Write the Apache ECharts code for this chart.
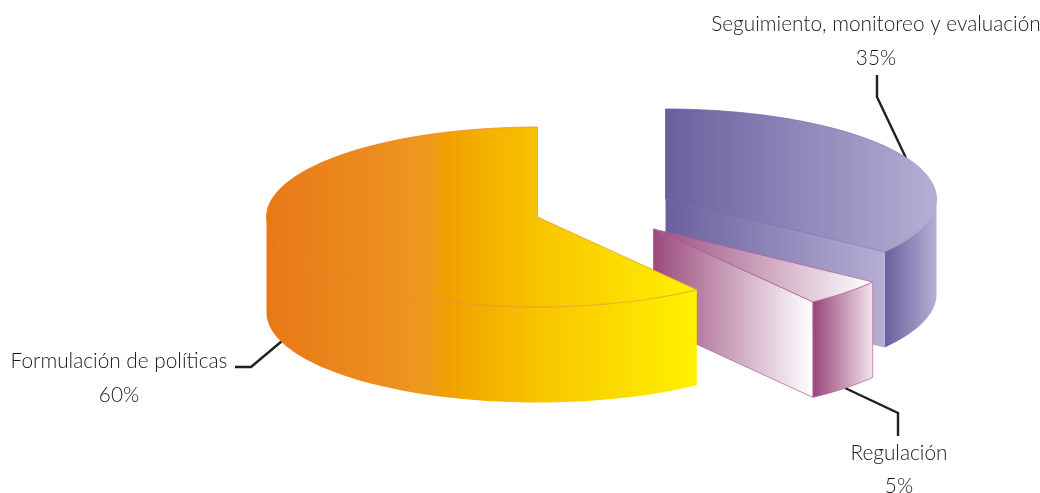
<!DOCTYPE html>
<html>
<head>
<meta charset="utf-8">
<style>html,body{margin:0;padding:0;background:#fff}#c{width:1040px;height:493px}</style>
<script src="https://cdn.jsdelivr.net/npm/echarts@6/dist/echarts.min.js"></script>
</head>
<body>
<div id="c"></div>
<script>
// Data (clockwise from twelve o'clock; this is also the paint order)
const categories = ['Seguimiento, monitoreo y evaluación', 'Regulación', 'Formulación de políticas'];
const shares = [35, 5, 60];

// Layout and styles, by slice
const centers = [[665.5, 199], [653.5, 229], [537.5, 217]];
const radiusX = 271, radiusY = 90, depth = 95.5;
const topStops = [
  [[0, '#6A5F9E'], [1, '#B6AED4']],
  [[0, '#9A4A7C'], [1, '#FFFFFF']],
  [[0, '#E87817'], [0.25, '#EC8C1E'], [0.38, '#EE9A1C'], [0.42, '#F0A000'], [0.63, '#F8C400'], [1, '#FFF200']]
];
const cutStops = [
  [[0, '#6A5F9E'], [1, '#B6AED4']],
  [[0, '#9A4A7C'], [1, '#FFFFFF']],
  [[0, '#F8C400'], [1, '#FFF200']]
];
const sideStops = [
  [[0, '#6A5F9E'], [1, '#B6AED4']],
  [[0, '#98427A'], [1, '#F2E4EC']],
  [[0, '#E87817'], [0.25, '#EC8C1E'], [0.38, '#EE9A1C'], [0.42, '#F0A000'], [0.63, '#F8C400'], [1, '#FFF200']]
];
const edgeStops = [
  [[0, '#655A9A'], [0.8, '#8A80B8'], [1, '#B0A8D0']],
  [[0, '#A85E90'], [1, '#B4709C']],
  [[0, '#E87817'], [0.3, '#E98417'], [1, '#F5A623']]
];
const wallEdged = [false, true, false];
const labelFont = 'Lato';
const labelSize = 20.8;
const labelColor = '#1A1A1A';
const labelCenters = [[876, 24, 58], [899, 453, 486], [119, 361, 395]];
const leaders = [
  [[877, 75], [877, 97], [906, 158]],
  [[845, 388], [898, 413], [898, 436]],
  [[235, 367], [251, 367], [282, 341]]
];

const total = shares.reduce((a, b) => a + b, 0);
const starts = [];
shares.reduce((acc, v, i) => { starts[i] = acc; return acc + v; }, 0);

function grad(stops) {
  return new echarts.graphic.LinearGradient(0, 0, 1, 0, stops.map(s => ({ offset: s[0], color: s[1] })));
}
function pt(c, deg, dz) {
  const a = deg * Math.PI / 180;
  return [c[0] + radiusX * Math.cos(a), c[1] + radiusY * Math.sin(a) + (dz || 0)];
}
function arc(c, a0, a1, dz) {
  const out = [], n = Math.max(2, Math.ceil(Math.abs(a1 - a0) / 2));
  for (let i = 0; i <= n; i++) out.push(pt(c, a0 + (a1 - a0) * i / n, dz));
  return out;
}
function poly(points, stops, edge, z) {
  return {
    type: 'polygon', z2: z, shape: { points },
    style: { fill: grad(stops), stroke: edge ? grad(edge) : null, lineWidth: edge ? 0.8 : 0 }
  };
}

function renderSlice(params, api) {
  const i = params.dataIndex;
  const value = api.value(0);
  const c = centers[i];
  const a0 = -90 + starts[i] / total * 360;
  const a1 = a0 + value / total * 360;
  const children = [];
  const wallEdge = wallEdged[i] ? edgeStops[i] : null;

  // leader under the slice
  children.push({
    type: 'polyline', z2: 0, shape: { points: leaders[i] },
    style: { stroke: '#231F20', lineWidth: 2.4, fill: null }
  });

  // outer wall: only the part of the rim that faces the viewer
  const ranges = [[0, 180], [360, 540]];
  ranges.forEach(r => {
    const s = Math.max(a0, r[0]), e = Math.min(a1, r[1]);
    if (e > s) {
      const upper = arc(c, s, e, 0);
      const lower = arc(c, e, s, depth);
      children.push(poly(upper.concat(lower), sideStops[i], wallEdge, 1));
    }
  });

  // cut wall at the clockwise end, when it faces the viewer
  const endNorm = ((a1 % 360) + 360) % 360;
  if (endNorm < 90 || endNorm > 270) {
    const p = pt(c, a1, 0), q = pt(c, a1, depth);
    children.push(poly([c, p, q, [c[0], c[1] + depth]], cutStops[i], wallEdge, 1));
  }

  // top face
  const rim = arc(c, a0, a1, 0);
  children.push(poly([c].concat(rim), topStops[i], edgeStops[i], 2));

  // labels
  const lc = labelCenters[i];
  children.push({
    type: 'text', z2: 3,
    style: { x: lc[0], y: lc[1], text: categories[i], fill: labelColor, font: '300 ' + labelSize + 'px ' + labelFont, textAlign: 'center', textVerticalAlign: 'middle' }
  });
  children.push({
    type: 'text', z2: 3,
    style: { x: lc[0], y: lc[2], text: value + '%', fill: labelColor, font: '300 ' + labelSize + 'px ' + labelFont, textAlign: 'center', textVerticalAlign: 'middle' }
  });
  return { type: 'group', children };
}

const chart = echarts.init(document.getElementById('c'), null, { renderer: 'canvas' });
chart.setOption({
  animation: false,
  backgroundColor: '#fff',
  series: [{
    type: 'custom',
    coordinateSystem: 'none',
    silent: true,
    renderItem: renderSlice,
    data: shares.map((v, i) => ({ name: categories[i], value: [v] }))
  }]
});
</script>
</body>
</html>
